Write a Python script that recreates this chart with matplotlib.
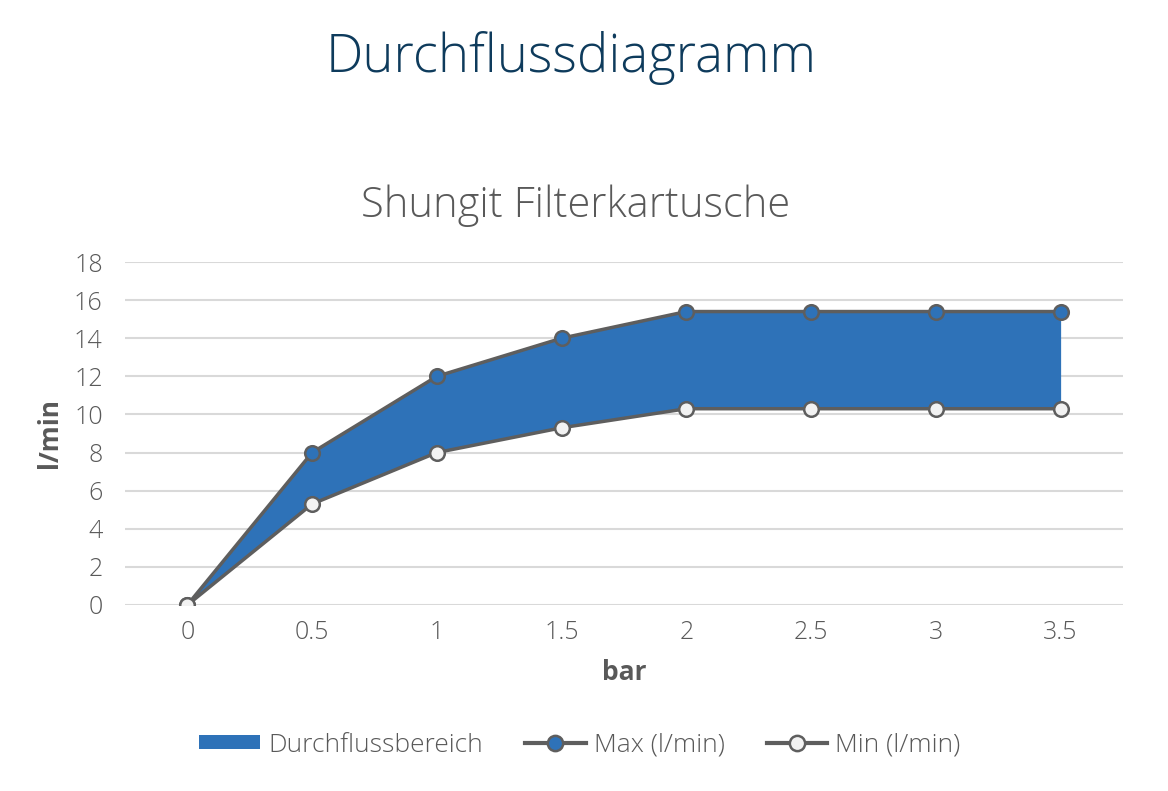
import matplotlib
matplotlib.use("Agg")
import matplotlib.pyplot as plt
from matplotlib.lines import Line2D
from matplotlib.patches import Patch

pressure = [0, 0.5, 1, 1.5, 2, 2.5, 3, 3.5]
pressure_labels = ["0", "0.5", "1", "1.5", "2", "2.5", "3", "3.5"]
max_flow = [0, 8, 12, 14, 15.4, 15.4, 15.4, 15.4]
min_flow = [0, 5.3, 8, 9.3, 10.3, 10.3, 10.3, 10.3]
y_ticks = [0, 2, 4, 6, 8, 10, 12, 14, 16, 18]

plt.rcParams['font.family'] = ['Open Sans', 'DejaVu Sans']
plt.rcParams['font.weight'] = 'light'

fill_c = '#2E72B8'
line_c = '#5E5E5E'
txt_c = '#595959'

fig = plt.figure(figsize=(11.68, 7.91), dpi=100)
ax = fig.add_axes([125/1168, 1-605/791, (1123-125)/1168, (605-262)/791])

ax.fill_between(pressure, min_flow, max_flow, color=fill_c, linewidth=0, zorder=2)
ax.plot(pressure, max_flow, color=line_c, lw=2.5, marker='o', ms=10.5,
        mfc=fill_c, mec=line_c, mew=1.8, zorder=3)
ax.plot(pressure, min_flow, color=line_c, lw=2.5, marker='o', ms=10.5,
        mfc='#F2F2F2', mec=line_c, mew=1.8, zorder=4)

ax.set_xlim(-0.25, 3.75)
ax.set_ylim(0, 18)
ax.set_yticks(y_ticks)
ax.set_xticks(pressure)
ax.set_xticklabels(pressure_labels)
ax.grid(axis='y', color='#D9D9D9', lw=1.5, zorder=0)
ax.set_axisbelow(True)
for s in ax.spines.values():
    s.set_visible(False)
ax.tick_params(length=0, labelsize=18, labelcolor=txt_c, pad=11)
ax.tick_params(axis='y', pad=16)

ax.set_xlabel('bar', fontsize=19, fontweight='bold', color=txt_c, labelpad=10)
ax.set_ylabel('l/min', fontsize=19, fontweight='bold', color=txt_c, labelpad=8)

fig.text(571/1168, 1-72/791, 'Durchflussdiagramm', fontsize=38, color='#0E3B5C',
         ha='center', va='baseline')
fig.text(576/1168, 1-217/791, 'Shungit Filterkartusche', fontsize=30, color=txt_c,
         ha='center', va='baseline')

handles = [
    Patch(facecolor=fill_c, edgecolor='none'),
    Line2D([0], [0], color=line_c, lw=3, marker='o', ms=11, mfc=fill_c, mec=line_c, mew=1.8),
    Line2D([0], [0], color=line_c, lw=3, marker='o', ms=11, mfc='#F2F2F2', mec=line_c, mew=1.8),
]
labels = ['Durchflussbereich', 'Max (l/min)', 'Min (l/min)']
leg = fig.legend(handles, labels, loc='center', bbox_to_anchor=(580/1168, 1-745/791),
                 ncol=3, frameon=False, fontsize=19, labelcolor=txt_c,
                 handlelength=2.3, handleheight=0.45, columnspacing=1.6, handletextpad=0.3)

fig.savefig('out.png', dpi=100, facecolor='white')
